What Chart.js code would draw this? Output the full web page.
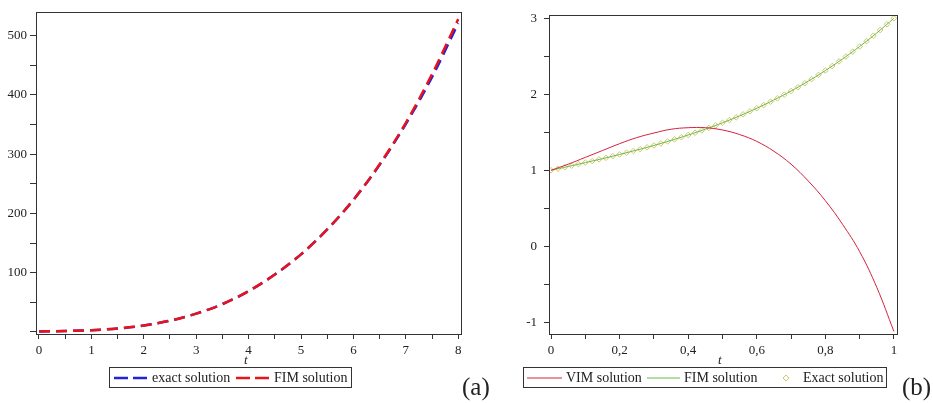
<!DOCTYPE html>
<html>
<head>
<meta charset="utf-8">
<script src="https://cdn.jsdelivr.net/npm/chart.js@4/dist/chart.umd.min.js"></script>
<style>
  html, body { margin: 0; padding: 0; background: #fff; }
  #wrap { position: relative; width: 933px; height: 403px; overflow: hidden; font-family: "Liberation Serif", "DejaVu Serif", serif; color: #222; }
  .box { position: absolute; }
  .legend { position: absolute; top: 367px; height: 19px; border: 1px solid #333; background: #fff; font-size: 14px; }
  .legend span, .legend svg { position: absolute; }
  .legend span { top: 1px; line-height: 17px; white-space: nowrap; }
  .legend svg { top: 0; }
  .tlab { position: absolute; top: 352px; font-size: 13px; font-style: italic; }
  .tag { position: absolute; top: 373px; font-size: 25px; line-height: 28px; }
</style>
</head>
<body>
<div id="wrap">
  <div class="box" style="left:0;top:0;width:470px;height:403px"><canvas id="chartA"></canvas></div>
  <div class="box" style="left:470px;top:0;width:463px;height:403px"><canvas id="chartB"></canvas></div>

  <div class="tlab" style="left:244px">t</div>
  <div class="tlab" style="left:718px">t</div>

  <div class="legend" style="left:109px;width:241px">
    <svg width="40" height="19" style="left:3px"><line x1="1" y1="10" x2="35" y2="10" stroke="#2222dd" stroke-width="2.5" stroke-dasharray="14,5"/></svg>
    <span style="left:42px">exact solution</span>
    <svg width="40" height="19" style="left:125px"><line x1="1" y1="10" x2="35" y2="10" stroke="#e8141a" stroke-width="2.5" stroke-dasharray="14,5"/></svg>
    <span style="left:164px">FIM solution</span>
  </div>

  <div class="legend" style="left:523px;width:362px">
    <svg width="40" height="19" style="left:3px"><line x1="0" y1="10" x2="35" y2="10" stroke="#d4213d" stroke-width="1"/></svg>
    <span style="left:42px">VIM solution</span>
    <svg width="40" height="19" style="left:123px"><line x1="0" y1="10" x2="33" y2="10" stroke="#66bb44" stroke-width="1"/></svg>
    <span style="left:160px">FIM solution</span>
    <svg width="12" height="19" style="left:256px"><path d="M6 7 L9 10 L6 13 L3 10 Z" fill="none" stroke="#d2c66a" stroke-width="1"/></svg>
    <span style="left:279px">Exact solution</span>
  </div>

  <div class="tag" style="left:462px">(a)</div>
  <div class="tag" style="left:902px">(b)</div>
</div>

<script>
// ---------- chart (a) data ----------
const tA = [0, 0.5, 1, 1.5, 2, 2.5, 3, 3.5, 4, 4.5, 5, 5.5, 6, 6.5, 7, 7.5, 8];
const exactA = [1, 1.6, 3, 5.9, 11, 19, 31, 47, 69, 97, 131, 173, 223, 282, 351, 430, 521];
const fimA   = [1, 1.6, 3, 5.9, 11, 19, 31, 47, 69, 97, 131, 173, 223, 283, 353, 435, 528];
const xTicksA = [0, 0.5, 1, 1.5, 2, 2.5, 3, 3.5, 4, 4.5, 5, 5.5, 6, 6.5, 7, 7.5, 8];
const xLabelsA = ['0', '', '1', '', '2', '', '3', '', '4', '', '5', '', '6', '', '7', '', '8'];
const yTicksA = [0, 50, 100, 150, 200, 250, 300, 350, 400, 450, 500];
const yLabelsA = ['', '', '100', '', '200', '', '300', '', '400', '', '500'];

// ---------- chart (b) data ----------
const tB = [0, 0.05, 0.1, 0.15, 0.2, 0.25, 0.3, 0.35, 0.4, 0.45, 0.5, 0.55, 0.6, 0.65, 0.7, 0.75, 0.8, 0.85, 0.9, 0.95, 1];
const vimB = [1.00, 1.08, 1.17, 1.26, 1.35, 1.43, 1.49, 1.54, 1.56, 1.56, 1.53, 1.47, 1.38, 1.25, 1.08, 0.86, 0.60, 0.29, -0.07, -0.54, -1.12];
const fimB = [1.000, 1.050, 1.101, 1.153, 1.208, 1.266, 1.327, 1.393, 1.464, 1.541, 1.625, 1.716, 1.816, 1.925, 2.043, 2.172, 2.312, 2.464, 2.629, 2.807, 3.000];
const tE = [0, 0.02, 0.04, 0.06, 0.08, 0.1, 0.12, 0.14, 0.16, 0.18, 0.2, 0.22, 0.24, 0.26, 0.28, 0.3, 0.32, 0.34, 0.36, 0.38, 0.4,
            0.42, 0.44, 0.46, 0.48, 0.5, 0.52, 0.54, 0.56, 0.58, 0.6, 0.62, 0.64, 0.66, 0.68, 0.7, 0.72, 0.74, 0.76, 0.78, 0.8,
            0.82, 0.84, 0.86, 0.88, 0.9, 0.92, 0.94, 0.96, 0.98, 1];
const exactB = [1.000, 1.020, 1.040, 1.060, 1.081, 1.101, 1.122, 1.143, 1.164, 1.186, 1.208, 1.231, 1.254, 1.278, 1.302, 1.327,
                1.353, 1.379, 1.407, 1.435, 1.464, 1.494, 1.525, 1.557, 1.591, 1.625, 1.661, 1.697, 1.736, 1.775, 1.816,
                1.858, 1.902, 1.947, 1.994, 2.043, 2.093, 2.145, 2.199, 2.255, 2.312, 2.371, 2.433, 2.496, 2.561, 2.629,
                2.699, 2.771, 2.845, 2.921, 3.000];
const xTicksB = [0, 0.1, 0.2, 0.3, 0.4, 0.5, 0.6, 0.7, 0.8, 0.9, 1];
const xLabelsB = ['0', '', '0,2', '', '0,4', '', '0,6', '', '0,8', '', '1'];
const yTicksB = [-1, -0.5, 0, 0.5, 1, 1.5, 2, 2.5, 3];
const yLabelsB = ['-1', '', '0', '', '1', '', '2', '', '3'];

const pts = (xs, ys) => xs.map((x, i) => ({ x: x, y: ys[i] }));

// box around the plot area
const frame = {
  id: 'frame',
  afterDraw(chart) {
    const { ctx, chartArea: a } = chart;
    ctx.save();
    ctx.strokeStyle = '#333';
    ctx.lineWidth = 1;
    ctx.strokeRect(Math.round(a.left) + 0.5, Math.round(a.top) + 0.5, Math.round(a.right - a.left), Math.round(a.bottom - a.top));
    ctx.restore();
  }
};

const tickFont = { family: '"Liberation Serif", serif', size: 13 };

function axis(opts) {
  return {
    type: 'linear',
    min: opts.min,
    max: opts.max,
    afterBuildTicks: s => { s.ticks = opts.ticks.map(v => ({ value: v })); },
    afterFit: s => { if (opts.width) s.width = opts.width; if (opts.height) s.height = opts.height; },
    grid: { drawOnChartArea: false, drawTicks: true, tickLength: opts.tickLength, color: '#333' },
    border: { display: true, color: '#333', width: 1 },
    ticks: {
      autoSkip: false, maxRotation: 0, padding: opts.padding,
      color: '#222', font: tickFont,
      callback: (v, i) => opts.labels[i]
    }
  };
}

Chart.defaults.animation = false;

new Chart(document.getElementById('chartA'), {
  type: 'line',
  data: {
    datasets: [
      { label: 'FIM solution', data: pts(tA, fimA), borderColor: '#e8141a', borderWidth: 2.5, borderDash: [11, 6],
        pointRadius: 0, cubicInterpolationMode: 'monotone', order: 0 },
      { label: 'exact solution', data: pts(tA, exactA), borderColor: '#2222dd', borderWidth: 2.5, borderDash: [11, 6],
        pointRadius: 0, cubicInterpolationMode: 'monotone', order: 1 }
    ]
  },
  options: {
    responsive: true, maintainAspectRatio: false,
    layout: { padding: { left: 0, right: 9, top: 12, bottom: 0 } },
    plugins: { legend: { display: false }, tooltip: { enabled: false } },
    scales: {
      x: axis({ min: -0.057, max: 8.053, ticks: xTicksA, labels: xLabelsA, height: 69, tickLength: 5, padding: 4 }),
      y: axis({ min: -3.4, max: 540, ticks: yTicksA, labels: yLabelsA, width: 36, tickLength: 6, padding: 3 })
    }
  },
  plugins: [frame]
});

new Chart(document.getElementById('chartB'), {
  type: 'line',
  data: {
    datasets: [
      { label: 'Exact solution', data: pts(tE, exactB), showLine: false, pointStyle: 'rectRot', pointRadius: 2.8,
        pointBorderWidth: 1, pointBorderColor: '#d2c66a', pointBackgroundColor: 'rgba(255,255,255,0)', order: 2 },
      { label: 'FIM solution', data: pts(tB, fimB), borderColor: '#66bb44', borderWidth: 1, pointRadius: 0,
        tension: 0.4, order: 1 },
      { label: 'VIM solution', data: pts(tB, vimB), borderColor: '#d4213d', borderWidth: 1, pointRadius: 0,
        tension: 0.4, order: 0 }
    ]
  },
  options: {
    responsive: true, maintainAspectRatio: false,
    layout: { padding: { left: 0, right: 36, top: 15, bottom: 0 } },
    plugins: { legend: { display: false }, tooltip: { enabled: false } },
    scales: {
      x: axis({ min: -0.006, max: 1.009, ticks: xTicksB, labels: xLabelsB, height: 69, tickLength: 5, padding: 4 }),
      y: axis({ min: -1.154, max: 3.043, ticks: yTicksB, labels: yLabelsB, width: 79, tickLength: 5, padding: 7 })
    }
  },
  plugins: [frame]
});
</script>
</body>
</html>
